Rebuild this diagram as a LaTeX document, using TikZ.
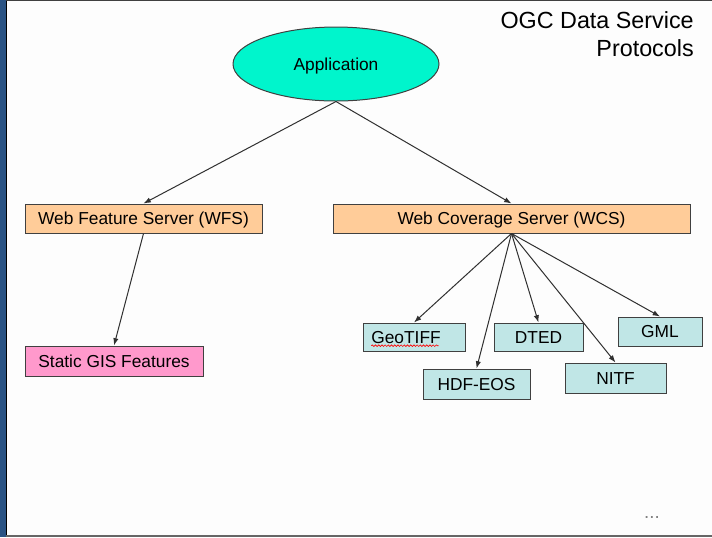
\documentclass[tikz,border=0pt]{standalone}
\usepackage{fontspec}
\setmainfont{Liberation Sans}
\usepackage{tikz}
\usetikzlibrary{shapes.geometric,arrows.meta,decorations.pathmorphing}

\definecolor{pagebg}{HTML}{FDFDFD}
\definecolor{stripblue}{HTML}{2A5384}
\definecolor{appfill}{HTML}{00F5CC}
\definecolor{serverfill}{HTML}{FFCC99}
\definecolor{featfill}{HTML}{FF99CC}
\definecolor{fmtfill}{HTML}{C0E6E6}
\definecolor{edgegray}{HTML}{404040}
\definecolor{linegray}{HTML}{303030}

\begin{document}
\begin{tikzpicture}[x=0.75pt,y=0.75pt,yscale=-1,xscale=1,
    lbl/.style={font=\fontsize{13}{15}\selectfont, text=black, text height=9.3pt, text depth=0pt},
    boxnode/.style={lbl, rectangle, draw=edgegray, line width=0.75pt, inner sep=0pt},
    serverbox/.style={boxnode, fill=serverfill},
    featbox/.style={boxnode, fill=featfill},
    fmtbox/.style={boxnode, fill=fmtfill},
    link/.style={draw=linegray, line width=0.75pt, -{Latex[length=5.5pt,width=4pt]}}
]
\useasboundingbox (0,0) rectangle (712,537);

%Page background and edges
\fill[pagebg] (0,0) rectangle (712,537);
\fill[stripblue] (0,0) rectangle (6.5,537);
\draw[black, line width=0.9pt] (6.8,0) -- (6.8,537);
\draw[edgegray, line width=0.75pt] (6,0.5) -- (712,0.5);
\draw[gray!80!black, line width=1.5pt] (6,536) -- (712,536);

%Title
\node (title1) [anchor=base east, font=\fontsize{17.5}{21}\selectfont, inner sep=0pt] at (694,28) {OGC Data Service};
\node (title2) [anchor=base east, font=\fontsize{17.5}{21}\selectfont, inner sep=0pt] at (694,56) {Protocols};

%Application
\node (app) [lbl, ellipse, draw=edgegray, line width=0.75pt, fill=appfill, inner sep=0pt,
    minimum width=154.5pt, minimum height=55.5pt] at (336,64) {Application};

%Servers
\node (wfs) [serverbox, minimum width=177.75pt, minimum height=21.75pt] at (143.5,218.5) {Web Feature Server (WFS)};
\node (wcs) [serverbox, minimum width=267.75pt, minimum height=21.75pt] at (511.5,218.5) {Web Coverage Server (WCS)};

%Features
\node (static) [featbox, minimum width=133.5pt, minimum height=22.5pt] at (114,361) {Static GIS Features};

%Coverage formats
\node (geotiff) [fmtbox, minimum width=76.5pt, minimum height=21pt, text width=64pt, align=left] at (414,337) {GeoTIFF};
\node (hdfeos) [fmtbox, minimum width=80.25pt, minimum height=22.5pt] at (476.5,384) {HDF-EOS};
\node (dted) [fmtbox, minimum width=66.75pt, minimum height=21pt] at (538.5,337) {DTED};
\node (nitf) [fmtbox, minimum width=75.75pt, minimum height=22.5pt] at (615.5,378) {NITF};
\node (gml) [fmtbox, minimum width=63pt, minimum height=21.75pt] at (660,331.5) {GML};

%Spelling mark under GeoTIFF
\draw[red, line width=0.5pt, decorate, decoration={snake, amplitude=0.6pt, segment length=2.4pt}]
    ([xshift=-32pt,yshift=6.5pt]geotiff.center) -- ([xshift=18.5pt,yshift=6.5pt]geotiff.center);

%Connectors
\draw[link] (app.south) -- (wfs.north);
\draw[link] (app.south) -- (wcs.north);
\draw[link] (wfs.south) -- (static.north);
\draw[link] (wcs.south) -- (geotiff.north);
\draw[link] (wcs.south) -- (hdfeos.north);
\draw[link] (wcs.south) -- (dted.north);
\draw[link] (wcs.south) -- (nitf.north);
\draw[link] (wcs.south) -- (gml.north);

%Ellipsis
\node (more) [text=gray, font=\fontsize{14}{14}\selectfont, inner sep=0pt, anchor=base] at (652,518) {...};
\end{tikzpicture}
\end{document}
